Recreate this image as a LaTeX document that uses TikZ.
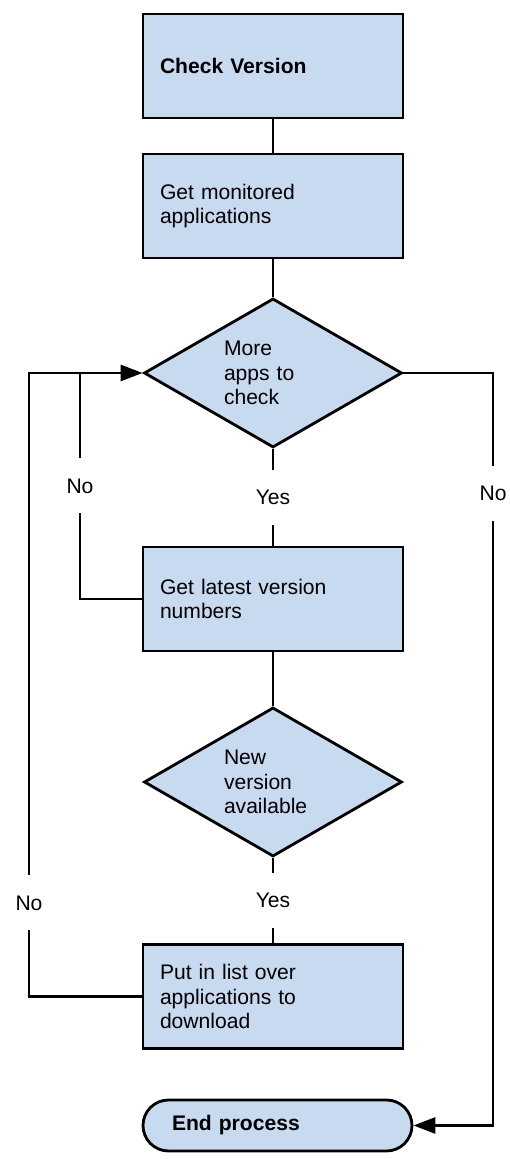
\documentclass[tikz,border=0pt]{standalone}
\usepackage{fontspec}
\setmainfont{Liberation Sans}
\usetikzlibrary{shapes.geometric,shapes.misc,arrows.meta}
\definecolor{boxblue}{RGB}{199,218,240}

\begin{document}
\begin{tikzpicture}[
  font=\fontsize{12}{14}\selectfont,
  line width=1.6pt,
  stepbox/.style={draw, fill=boxblue, rectangle, minimum width=5.2cm, minimum height=2.08cm, text width=4.52cm, inner xsep=0.34cm, align=left},
  decision/.style={draw, fill=boxblue, diamond, aspect=1.73, minimum width=5.16cm, minimum height=2.98cm, inner sep=0pt, text width=1.96cm, align=left},
  terminal/.style={draw, fill=boxblue, rounded rectangle, minimum width=5.38cm, minimum height=1.02cm, inner sep=0pt, text width=4.22cm, align=left},
  answer/.style={fill=white, inner sep=0pt, minimum width=0.9cm, minimum height=1.1cm},
  arrow/.style={-{Triangle[length=0.44cm,width=0.32cm]}}
]
\useasboundingbox (0,0) rectangle (10.2,23.18);

\node[stepbox, font=\fontsize{12}{14}\selectfont\bfseries] (check) at (5.46,21.86) {Check Version};
\node[stepbox] (monitored) at (5.46,19.06) {Get monitored\\applications};
\draw (check) -- (monitored);

\node[decision] (more) at (5.46,15.72) {More\\apps to\\check};
\draw (monitored) -- (more);

\node[stepbox] (latest) at (5.46,11.2) {Get latest version\\numbers};
\draw (more) -- node[answer] {Yes} (latest);

\node[decision] (new) at (5.46,7.54) {New\\version\\available};
\draw (latest) -- (new);

\node[stepbox] (putlist) at (5.46,3.25) {Put in list over\\applications to\\download};
\draw (new) -- node[answer] {Yes} (putlist);

\node[terminal, font=\fontsize{12}{14}\selectfont\bfseries] (end) at (5.55,0.67) {End process};

% loops back to the first question
\coordinate (latest-turn) at (1.6,11.2);
\coordinate (more-inner) at (1.6,15.72);
\draw (latest.west) -- (latest-turn) -- node[answer] {No} (more-inner);

\coordinate (putlist-turn) at (0.58,3.25);
\coordinate (more-outer) at (0.58,15.72);
\draw[arrow] (putlist.west) -- (putlist-turn) -- node[answer, pos=0.15] {No} (more-outer) -- (more.west);

% nothing left to check
\coordinate (more-right) at (9.86,15.72);
\coordinate (end-right) at (9.86,0.67);
\draw[arrow] (more.east) -- (more-right) -- node[answer, pos=0.16] {No} (end-right) -- (end.east);
\end{tikzpicture}
\end{document}
